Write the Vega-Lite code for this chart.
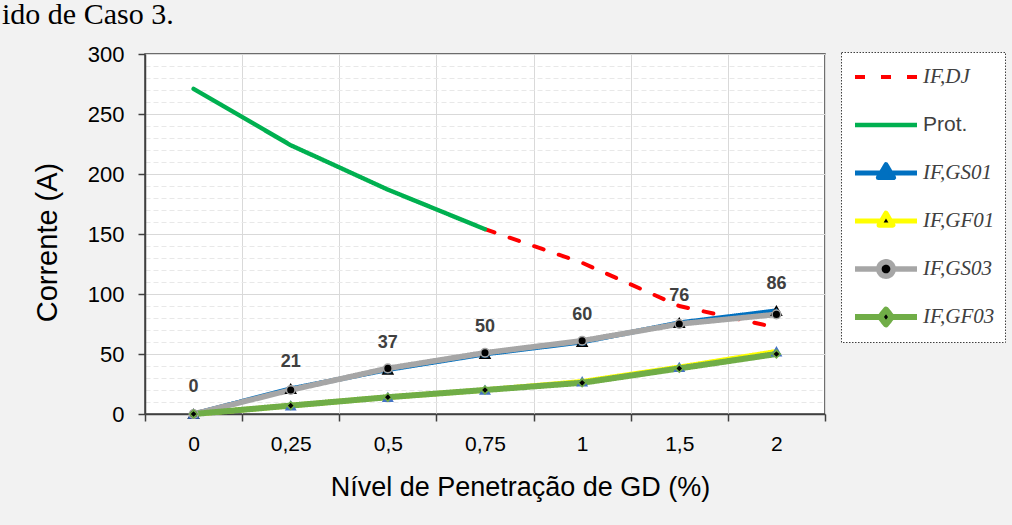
{
  "$schema": "https://vega.github.io/schema/vega-lite/v6.json",
  "width": 680,
  "height": 360,
  "autosize": {"type": "none"},
  "padding": {"left": 145, "top": 54, "right": 187, "bottom": 111},
  "background": "#f2f2f2",
  "title": {"text": "ido de Caso 3.", "font": "Liberation Serif", "fontSize": 30, "fontWeight": "normal", "color": "#000000", "anchor": "start", "frame": "group", "baseline": "alphabetic", "offset": 22, "dy": 33, "dx": -143},
  "config": {
    "view": {"fill": "white", "stroke": "#404040", "strokeWidth": 1.5},
    "font": "Liberation Sans"
  },
  "data": {
    "values": [
      {"x": "0,75", "series": "IF,DJ", "value": 154},
      {"x": "1", "series": "IF,DJ", "value": 126},
      {"x": "1,5", "series": "IF,DJ", "value": 90},
      {"x": "2", "series": "IF,DJ", "value": 72},
      {"x": "0", "series": "Prot.", "value": 271},
      {"x": "0,25", "series": "Prot.", "value": 224},
      {"x": "0,5", "series": "Prot.", "value": 187},
      {"x": "0,75", "series": "Prot.", "value": 154},
      {"x": "0", "series": "IF,GS01", "value": 0},
      {"x": "0,25", "series": "IF,GS01", "value": 21},
      {"x": "0,5", "series": "IF,GS01", "value": 37},
      {"x": "0,75", "series": "IF,GS01", "value": 50},
      {"x": "1", "series": "IF,GS01", "value": 60},
      {"x": "1,5", "series": "IF,GS01", "value": 76},
      {"x": "2", "series": "IF,GS01", "value": 86},
      {"x": "0", "series": "IF,GF01", "value": 0},
      {"x": "0,25", "series": "IF,GF01", "value": 7},
      {"x": "0,5", "series": "IF,GF01", "value": 14},
      {"x": "0,75", "series": "IF,GF01", "value": 20},
      {"x": "1", "series": "IF,GF01", "value": 27},
      {"x": "1,5", "series": "IF,GF01", "value": 39},
      {"x": "2", "series": "IF,GF01", "value": 52},
      {"x": "0", "series": "IF,GS03", "value": 0},
      {"x": "0,25", "series": "IF,GS03", "value": 20},
      {"x": "0,5", "series": "IF,GS03", "value": 38},
      {"x": "0,75", "series": "IF,GS03", "value": 51},
      {"x": "1", "series": "IF,GS03", "value": 61},
      {"x": "1,5", "series": "IF,GS03", "value": 75},
      {"x": "2", "series": "IF,GS03", "value": 83},
      {"x": "0", "series": "IF,GF03", "value": 0},
      {"x": "0,25", "series": "IF,GF03", "value": 7},
      {"x": "0,5", "series": "IF,GF03", "value": 14},
      {"x": "0,75", "series": "IF,GF03", "value": 20},
      {"x": "1", "series": "IF,GF03", "value": 26},
      {"x": "1,5", "series": "IF,GF03", "value": 38},
      {"x": "2", "series": "IF,GF03", "value": 50}
    ]
  },
  "encoding": {
    "x": {
      "field": "x", "type": "ordinal",
      "sort": ["0", "0,25", "0,5", "0,75", "1", "1,5", "2"],
      "scale": {"type": "band", "paddingInner": 0, "paddingOuter": 0},
      "axis": {
        "tickBand": "extent", "labelAngle": 0, "tickSize": 7, "tickColor": "#404040", "tickWidth": 1.5,
        "domainColor": "#404040", "domainWidth": 1.5, "grid": true, "gridColor": "#d9d9d9",
        "labelFontSize": 21, "labelColor": "#000000", "labelPadding": 12,
        "title": "Nível de Penetração de GD (%)", "titleFontSize": 27, "titleFontWeight": "normal", "titleColor": "#000000", "titlePadding": 20,
        "titleX": 375, "titleAlign": "center"
      }
    },
    "y": {
      "field": "value", "type": "quantitative",
      "scale": {"domain": [0, 300], "nice": false},
      "axis": {
        "values": [0, 10, 20, 30, 40, 50, 60, 70, 80, 90, 100, 110, 120, 130, 140, 150, 160, 170, 180, 190, 200, 210, 220, 230, 240, 250, 260, 270, 280, 290, 300],
        "labelExpr": "datum.value % 50 === 0 ? datum.label : ''",
        "labelOverlap": false,
        "tickSize": 7, "tickColor": "#404040", "tickWidth": 1.5,
        "tickOpacity": {"condition": {"test": "datum.value % 50 === 0", "value": 1}, "value": 0},
        "grid": true,
        "gridDash": {"condition": {"test": "datum.value % 50 === 0", "value": []}, "value": [5, 3]},
        "gridColor": {"condition": {"test": "datum.value % 50 === 0", "value": "#d9d9d9"}, "value": "#e8e8e8"},
        "domainColor": "#404040", "domainWidth": 1.5,
        "labelFontSize": 22, "labelColor": "#000000", "labelPadding": 14,
        "title": "Corrente (A)", "titleFontSize": 29, "titleFontWeight": "normal", "titleColor": "#000000", "titlePadding": 25,
        "titleY": 188
      }
    }
  },
  "layer": [
    {
      "mark": {"type": "line", "strokeCap": "round", "strokeJoin": "round"},
      "encoding": {
        "color": {
          "field": "series", "type": "nominal",
          "scale": {"domain": ["IF,DJ", "Prot.", "IF,GS01", "IF,GF01", "IF,GS03", "IF,GF03"], "range": ["#ff0000", "#00b050", "#0070c0", "#ffff00", "#a6a6a6", "#70ad47"]},
          "legend": {
            "title": null, "orient": "none", "legendX": 696, "legendY": -2,
            "symbolType": "stroke", "symbolSize": 3844, "clipHeight": 30, "rowPadding": 18, "padding": 10,
            "labelFont": "Liberation Serif", "labelFontStyle": "italic", "labelFontSize": 21, "labelColor": "#404040", "labelOffset": 3,
            "fillColor": "white", "strokeColor": "#404040", "symbolOffset": 1,
            "encode": {
              "legend": {"update": {"strokeDash": {"value": [1.5, 1.5]}, "strokeWidth": {"value": 1}}},
              "labels": {"update": {
                "fontStyle": {"signal": "datum.value === 'Prot.' ? 'normal' : 'italic'"},
                "font": {"signal": "datum.value === 'Prot.' ? 'Liberation Sans' : 'Liberation Serif'"}
              }},
              "symbols": {"update": {
                "shape": {"signal": "datum.value === 'IF,GS01' ? 'M-1,0H-0.15M0.15,0H1M0,-0.27L0.25,0.15L-0.25,0.15Z' : datum.value === 'IF,GF01' ? 'M-1,0H-0.13M0.13,0H1M0,-0.25L0.22,0.13L-0.22,0.13Z' : datum.value === 'IF,GS03' ? 'M-1,0H-0.23M0.23,0H1M0.23,0A0.23,0.23,0,1,1,-0.23,0A0.23,0.23,0,1,1,0.23,0Z' : datum.value === 'IF,GF03' ? 'M-1,0H-0.19M0.19,0H1M0,-0.24L0.19,0L0,0.24L-0.19,0Z' : 'M-1,0H1'"},
                "fill": {"signal": "datum.value === 'IF,GS01' ? '#0070c0' : (datum.value === 'IF,DJ' || datum.value === 'Prot.') ? 'transparent' : '#000000'"},
                "fillOpacity": {"value": 1},
                "strokeJoin": {"value": "round"},
                "strokeWidth": {"signal": "datum.value === 'Prot.' ? 6 : datum.value === 'IF,GS01' ? 3 : 4"}
              }}
            }
          }
        },
        "strokeDash": {
          "field": "series", "type": "nominal",
          "scale": {"domain": ["IF,DJ", "Prot.", "IF,GS01", "IF,GF01", "IF,GS03", "IF,GF03"], "range": [[10, 16], [1, 0], [1, 0], [1, 0], [1, 0], [1, 0]]}
        },
        "strokeWidth": {
          "field": "series", "type": "nominal",
          "scale": {"domain": ["IF,DJ", "Prot.", "IF,GS01", "IF,GF01", "IF,GS03", "IF,GF03"], "range": [4, 6, 3, 4, 5, 5]}
        }
      }
    },
    {
      "transform": [{"filter": "indexof(['IF,GS01','IF,GF01','IF,GS03','IF,GF03'], datum.series) >= 0"}],
      "mark": {"type": "point", "filled": true, "strokeWidth": 1.5, "opacity": 1},
      "encoding": {
        "shape": {"field": "series", "type": "nominal", "legend": null, "scale": {"domain": ["IF,GS01", "IF,GF01", "IF,GS03", "IF,GF03"], "range": ["triangle-up", "triangle-up", "circle", "diamond"]}},
        "fill": {"field": "series", "type": "nominal", "legend": null, "scale": {"domain": ["IF,GS01", "IF,GF01", "IF,GS03", "IF,GF03"], "range": ["#0070c0", "#4472c4", "#000000", "#000000"]}},
        "stroke": {"field": "series", "type": "nominal", "legend": null, "scale": {"domain": ["IF,GS01", "IF,GF01", "IF,GS03", "IF,GF03"], "range": ["#000000", "#4472c4", "#a6a6a6", "#70ad47"]}},
        "size": {"field": "series", "type": "nominal", "legend": null, "scale": {"domain": ["IF,GS01", "IF,GF01", "IF,GS03", "IF,GF03"], "range": [100, 60, 90, 50]}}
      }
    },
    {
      "transform": [{"filter": "datum.series === 'IF,GS01'"}],
      "mark": {"type": "text", "dy": -27, "fontSize": 18, "fontWeight": "bold", "color": "#404040", "baseline": "middle"},
      "encoding": {"text": {"field": "value", "type": "quantitative"}}
    }
  ]
}
